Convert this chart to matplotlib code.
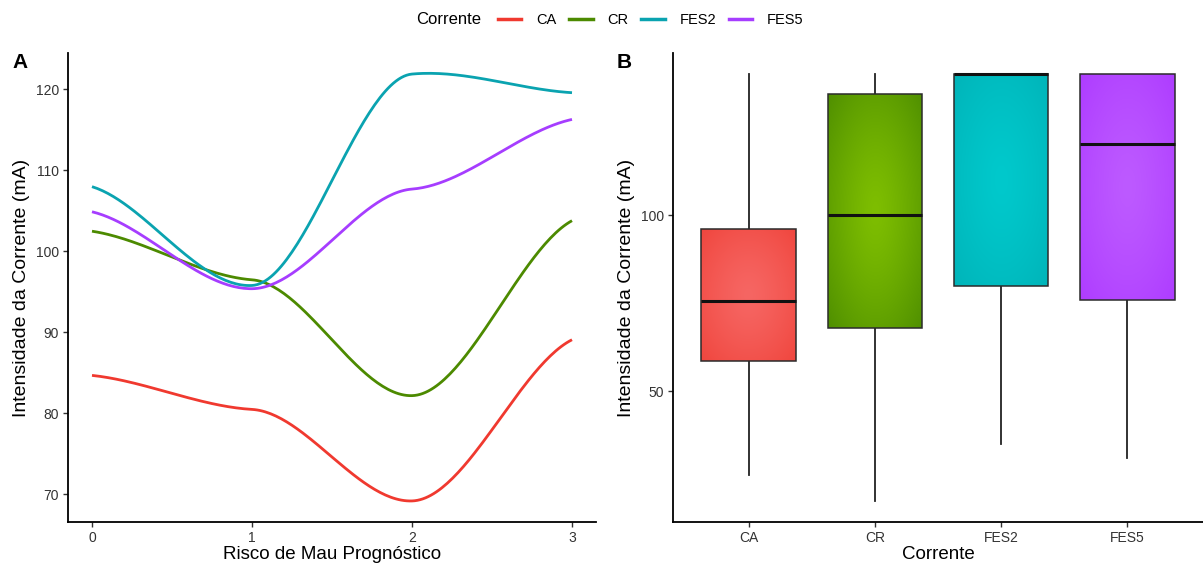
import numpy as np
import matplotlib
matplotlib.use("Agg")
import matplotlib.pyplot as plt
from matplotlib.lines import Line2D
from matplotlib.colors import to_rgb

plt.rcParams['font.family'] = ['Liberation Sans', 'DejaVu Sans']

# ---------------- data ----------------
risk = [0, 1, 2, 3]
series_names = ["CA", "CR", "FES2", "FES5"]
ca_line = [84.7, 80.5, 69.2, 89.1]
cr_line = [102.5, 96.5, 82.2, 103.8]
fes2_line = [108.0, 95.8, 121.9, 119.6]
fes5_line = [104.9, 95.4, 107.7, 116.3]

# boxplot summaries (whislo, q1, med, q3, whishi)
ca_box = [26.3, 58.5, 75.5, 96.0, 140.0]
cr_box = [18.9, 67.8, 100.0, 134.5, 140.0]
fes2_box = [35.1, 80.0, 140.0, 140.0, 140.0]
fes5_box = [31.1, 75.8, 120.3, 140.0, 140.0]

line_colors = ["#F0392F", "#4C8A00", "#0AA3B0", "#A63DFF"]
box_center = ["#F66663", "#7EBE00", "#00C9CC", "#BD5AFF"]
box_edge = ["#F0463E", "#4F8F00", "#00B4B9", "#AE3CFF"]

W, H = 1203, 566
fig = plt.figure(figsize=(W / 100, H / 100), dpi=100)


def px_axes(x0, y0, x1, y1):
    return fig.add_axes([x0 / W, 1 - y1 / H, (x1 - x0) / W, (y1 - y0) / H])


def smooth(xs, ys, k=0.15, kend=0.5, n=60):
    xs = np.asarray(xs, float)
    ys = np.asarray(ys, float)
    m = np.zeros_like(ys)
    for i in range(len(xs)):
        if i == 0:
            m[i] = kend * (ys[1] - ys[0]) / (xs[1] - xs[0])
        elif i == len(xs) - 1:
            m[i] = kend * (ys[-1] - ys[-2]) / (xs[-1] - xs[-2])
        else:
            m[i] = k * (ys[i + 1] - ys[i - 1]) / (xs[i + 1] - xs[i - 1])
    X, Y = [], []
    for i in range(len(xs) - 1):
        h = xs[i + 1] - xs[i]
        t = np.linspace(0, 1, n, endpoint=(i == len(xs) - 2))
        h00 = 2 * t**3 - 3 * t**2 + 1
        h10 = t**3 - 2 * t**2 + t
        h01 = -2 * t**3 + 3 * t**2
        h11 = t**3 - t**2
        X.append(xs[i] + t * h)
        Y.append(h00 * ys[i] + h10 * h * m[i] + h01 * ys[i + 1] + h11 * h * m[i + 1])
    return np.concatenate(X), np.concatenate(Y)


tick_color = "#333333"
spine_w = 1.3
tick_fs = 10
title_fs_x = 13.5
title_fs_y = 14

def style(ax):
    for s in ["top", "right"]:
        ax.spines[s].set_visible(False)
    for s in ["left", "bottom"]:
        ax.spines[s].set_linewidth(spine_w)
        ax.spines[s].set_color("black")
    ax.tick_params(axis="both", length=3.5, width=1.0, color="#333333",
                   labelsize=tick_fs, labelcolor=tick_color, pad=3)


# ---------------- panel A ----------------
axA = px_axes(68, 53, 596, 522)
lines = [ca_line, cr_line, fes2_line, fes5_line]
for vals, col in zip(lines, line_colors):
    xx, yy = smooth(risk, vals)
    axA.plot(xx, yy, color=col, lw=2.0, solid_capstyle="butt")
axA.set_xlim(-0.15, 3.15)
axA.set_ylim(66.6, 124.5)
axA.set_xticks(risk)
axA.set_yticks([70, 80, 90, 100, 110, 120])
axA.set_xlabel("Risco de Mau Prognóstico", fontsize=title_fs_x, labelpad=1)
axA.set_ylabel("Intensidade da Corrente (mA)", fontsize=title_fs_y, labelpad=4)
style(axA)

# ---------------- panel B ----------------
axB = px_axes(673, 53, 1203, 522)
boxes = [ca_box, cr_box, fes2_box, fes5_box]
stats = []
for name, b in zip(series_names, boxes):
    stats.append(dict(label=name, whislo=b[0], q1=b[1], med=b[2], q3=b[3], whishi=b[4]))
pos = np.arange(1, len(series_names) + 1)
bp = axB.bxp(stats, positions=pos, widths=0.75, patch_artist=True, showfliers=False,
             showcaps=False,
             boxprops=dict(facecolor="none", edgecolor="#2b2b2b", linewidth=1.1, zorder=3),
             medianprops=dict(color="#111111", linewidth=2.2, zorder=4, solid_capstyle="butt"),
             whiskerprops=dict(color="#222222", linewidth=1.3))

# radial gradient fills
gy, gx = np.mgrid[0:1:200j, 0:1:200j]
r = np.sqrt((gx - 0.5) ** 2 + (gy - 0.5) ** 2) / np.sqrt(0.5)
for i, (p, b) in enumerate(zip(pos, boxes)):
    c0 = np.array(to_rgb(box_center[i]))
    c1 = np.array(to_rgb(box_edge[i]))
    t = np.clip(r, 0, 1)[..., None] ** 1.3
    img = c0 * (1 - t) + c1 * t
    im = axB.imshow(img, extent=[p - 0.375, p + 0.375, b[1], b[3]], origin="lower",
                    aspect="auto", zorder=2, interpolation="bilinear")
    im.set_clip_path(bp["boxes"][i])

axB.set_xlim(0.4, 4.6)
axB.set_ylim(12.8, 146.1)
axB.set_xticks(pos)
axB.set_xticklabels(series_names)
axB.set_yticks([50, 100])
axB.set_xlabel("Corrente", fontsize=title_fs_x, labelpad=1)
axB.set_ylabel("Intensidade da Corrente (mA)", fontsize=title_fs_y, labelpad=4)
style(axB)

# panel letters
fig.text(12 / W, 1 - 62 / H, "A", fontsize=15, fontweight="bold", va="center", ha="left")
fig.text(617 / W, 1 - 62 / H, "B", fontsize=15, fontweight="bold", va="center", ha="left")

# legend
fig.text(416 / W, 1 - 20 / H, "Corrente", fontsize=12, va="center", ha="left")
handles = [Line2D([], [], color=c, lw=2.5) for c in line_colors]
fig.legend(handles, series_names, loc="center left", bbox_to_anchor=(498 / W, 1 - 20 / H),
           ncol=4, frameon=False, fontsize=10.5, handlelength=1.6, handletextpad=1.0,
           columnspacing=0.9, borderaxespad=0, borderpad=0)

fig.savefig("out.png", dpi=100)
